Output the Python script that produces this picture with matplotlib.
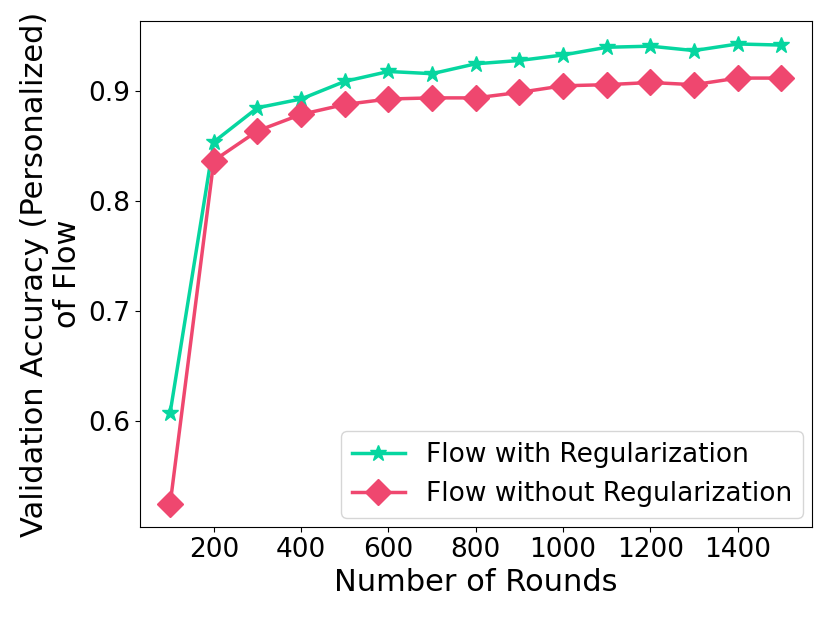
import numpy as np
import matplotlib
matplotlib.use("Agg")
import matplotlib.pyplot as plt

# rounds and accuracies
rounds = [100, 200, 300, 400, 500, 600, 700, 800, 900, 1000, 1100, 1200, 1300, 1400, 1500]
acc_reg = [0.608, 0.854, 0.885, 0.893, 0.909, 0.918, 0.916, 0.925, 0.928, 0.933,
           0.940, 0.941, 0.937, 0.943, 0.942]
acc_noreg = [0.525, 0.837, 0.864, 0.879, 0.888, 0.893, 0.894, 0.894, 0.899, 0.905,
             0.906, 0.908, 0.906, 0.912, 0.912]

green = '#06d6a0'
red = '#ef476f'

fig = plt.figure(figsize=(8.31, 6.17), dpi=100)
ax = fig.add_axes([0.168, 0.146, 0.809, 0.820])

ax.plot(rounds, acc_reg, color=green, marker='*', markersize=12, linewidth=2.5,
        label='Flow with Regularization')
ax.plot(rounds, acc_noreg, color=red, marker='D', markersize=13.5, linewidth=2.5,
        label='Flow without Regularization')

ax.set_xticks([200, 400, 600, 800, 1000, 1200, 1400])
ax.set_yticks([0.6, 0.7, 0.8, 0.9])
ax.tick_params(labelsize=19)
ax.set_xlabel('Number of Rounds', fontsize=22)
ax.set_ylabel('Validation Accuracy (Personalized)\nof Flow', fontsize=22, labelpad=4)
ax.legend(loc='lower right', fontsize=19, borderaxespad=0.35)

fig.savefig('out.png', dpi=100)
